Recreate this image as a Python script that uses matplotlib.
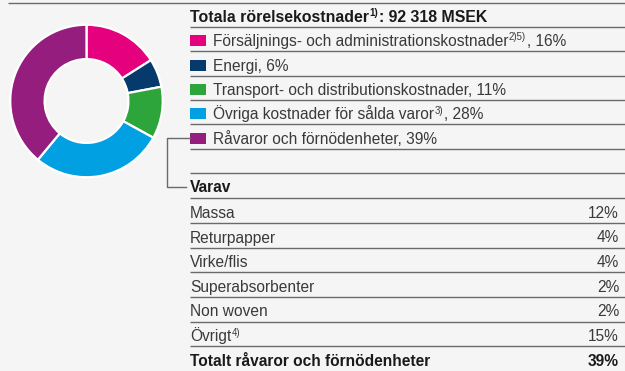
import matplotlib
matplotlib.use("Agg")
import matplotlib.pyplot as plt
from matplotlib.patches import Rectangle

# ---- data ----
cost_labels = [
    [("Försäljnings- och administrationskostnader", "n"), ("2)5)", "s"), (", 16%", "n")],
    [("Energi, 6%", "n")],
    [("Transport- och distributionskostnader, 11%", "n")],
    [("Övriga kostnader för sålda varor", "n"), ("3)", "s"), (", 28%", "n")],
    [("Råvaror och förnödenheter, 39%", "n")],
]
cost_shares = [16, 6, 11, 28, 39]
cost_colors = ["#e5007d", "#063a6c", "#2ea53a", "#00a0e2", "#951d7e"]

material_names = ["Massa", "Returpapper", "Virke/flis", "Superabsorbenter", "Non woven", "Övrigt"]
material_sup = ["", "", "", "", "", "4)"]
material_shares = [12, 4, 4, 2, 2, 15]
total_name = "Totalt råvaror och förnödenheter"
total_share = 39

BG = "#f5f5f5"
TXT = "#3a3a3a"
DARK = "#1a1a1a"
LINE = "#6a6a6a"
FONT = "Liberation Sans"
FS = 11.2

W, H = 625, 371
fig = plt.figure(figsize=(W / 100, H / 100), dpi=100, facecolor=BG)
ax = fig.add_axes([0, 0, 1, 1])
ax.set_xlim(0, W)
ax.set_ylim(H, 0)
ax.axis("off")
ax.set_facecolor(BG)

renderer = fig.canvas.get_renderer()


def rich(x, base, parts, color=TXT, weight="normal", size=FS):
    """Draw text pieces side by side on a baseline; 's' pieces are small and raised."""
    cx = x
    for txt, kind in parts:
        if kind == "s":
            t = ax.text(cx + 0.5, base - 5.5, txt, fontsize=size * 0.62, color=color,
                        weight=weight, family=FONT, va="baseline", ha="left")
        else:
            t = ax.text(cx, base, txt, fontsize=size, color=color, weight=weight,
                        family=FONT, va="baseline", ha="left")
        bb = t.get_window_extent(renderer=renderer)
        cx += bb.width + (1.0 if kind == "s" else 0)


def hline(y, x0=190, x1=W, lw=1.0):
    ax.plot([x0, x1], [y, y], color=LINE, lw=lw, solid_capstyle="butt")


# ---- top rule ----
hline(3, x0=8)

# ---- header ----
rich(190, 22, [("Totala rörelsekostnader", "n"), ("1)", "s"), (": 92 318 MSEK", "n")],
     color=DARK, weight="bold", size=11.4)
hline(27)

# ---- legend rows ----
legend_lines = [51, 75.5, 99.5, 124, 148.5]
for parts, col, ly in zip(cost_labels, cost_colors, legend_lines):
    base = ly - 5
    ax.add_patch(Rectangle((190, base - 11), 16, 11, color=col, lw=0))
    rich(213, base, parts)
    hline(ly)
hline(173)

# ---- bracket from raw materials row to breakdown ----
ax.plot([190, 167, 167, 186], [137.5, 137.5, 186.5, 186.5], color=LINE, lw=1.0)

# ---- breakdown table ----
rich(190, 192, [("Varav", "n")], color=DARK, weight="bold")
hline(197.5)
mat_lines = [222.5, 247.5, 272, 297, 321.5, 346]
for name, sup, share, ly in zip(material_names, material_sup, material_shares, mat_lines):
    base = ly - 5
    parts = [(name, "n")] + ([(sup, "s")] if sup else [])
    rich(190, base, parts)
    ax.text(619, base, f"{share}%", fontsize=FS, color=TXT, family=FONT,
            va="baseline", ha="right")
    hline(ly)
rich(190, 366, [(total_name, "n")], color=DARK, weight="bold")
ax.text(619, 366, f"{total_share}%", fontsize=FS, color=DARK, family=FONT,
        weight="bold", va="baseline", ha="right")

# ---- donut ----
cx, cy, r = 86.5, 101, 77
pax = fig.add_axes([(cx - r) / W, 1 - (cy + r) / H, 2 * r / W, 2 * r / H])
pax.pie(cost_shares, colors=cost_colors, startangle=90, counterclock=False,
        radius=1, wedgeprops=dict(width=0.45, edgecolor="white", linewidth=1.6))
pax.set_xlim(-1.01, 1.01)
pax.set_ylim(-1.01, 1.01)
pax.set_aspect("equal")
pax.axis("off")

fig.savefig("out.png", dpi=100, facecolor=BG)
